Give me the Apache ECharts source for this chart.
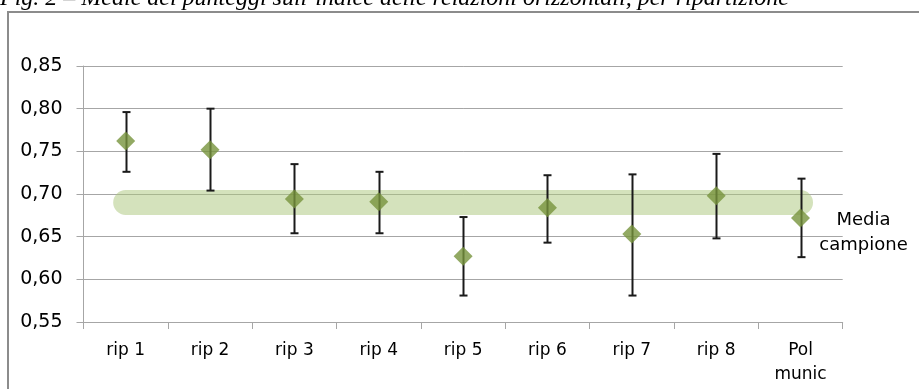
<!DOCTYPE html>
<html>
<head>
<meta charset="utf-8">
<script src="https://cdn.jsdelivr.net/npm/echarts@6/dist/echarts.min.js"></script>
<style>
  html, body { margin: 0; padding: 0; background: #fff; }
  #chart { width: 919px; height: 389px; }
</style>
</head>
<body>
<div id="chart"></div>
<script>
// Categories and per-area statistics
var categories = ['rip 1', 'rip 2', 'rip 3', 'rip 4', 'rip 5', 'rip 6', 'rip 7', 'rip 8', 'Pol\nmunic'];
var means = [0.762, 0.752, 0.694, 0.691, 0.627, 0.684, 0.653, 0.698, 0.672];
var lowerBounds = [0.726, 0.704, 0.654, 0.654, 0.581, 0.643, 0.581, 0.648, 0.626];
var upperBounds = [0.796, 0.800, 0.735, 0.726, 0.673, 0.722, 0.723, 0.747, 0.718];
var sampleMean = 0.69;
var yTicks = { min: 0.55, max: 0.85, step: 0.05 };
var titleText = 'Fig. 2 \u2013 Medie dei punteggi sull\u2019indice delle relazioni orizzontali, per ripartizione';

var chart = echarts.init(document.getElementById('chart'));

var FONT = 'DejaVu Sans';
var AXIS_GRAY = '#a6a6a6';

var errorData = categories.map(function (c, i) { return [i, lowerBounds[i], upperBounds[i]]; });
var bandData = categories.map(function () { return sampleMean; });

chart.setOption({
  animation: false,
  backgroundColor: '#ffffff',
  graphic: [
    {
      type: 'text',
      left: 0,
      top: -13,
      style: {
        text: titleText,
        font: 'italic 24px "Liberation Serif"',
        fill: '#000'
      }
    },
    {
      type: 'rect',
      shape: { x: 8, y: 12, width: 930, height: 400 },
      style: { fill: 'none', stroke: '#8c8c8c', lineWidth: 2 }
    }
  ],
  grid: { left: 83.5, right: 76.3, top: 66, bottom: 67, containLabel: false },
  xAxis: {
    type: 'category',
    data: categories,
    boundaryGap: true,
    axisLine: { show: true, lineStyle: { color: AXIS_GRAY, width: 1 } },
    axisTick: { show: true, length: 7, lineStyle: { color: AXIS_GRAY } },
    axisLabel: { color: '#000', fontFamily: FONT, fontSize: 17, margin: 17, lineHeight: 24, interval: 0 },
    splitLine: { show: false }
  },
  yAxis: {
    type: 'value',
    min: yTicks.min,
    max: yTicks.max,
    interval: yTicks.step,
    axisLine: { show: true, lineStyle: { color: AXIS_GRAY, width: 1 } },
    axisTick: { show: true, length: 7, lineStyle: { color: AXIS_GRAY } },
    axisLabel: {
      color: '#000', fontFamily: FONT, fontSize: 19, margin: 21,
      formatter: function (v) { return v.toFixed(2).replace('.', ','); }
    },
    splitLine: { show: true, lineStyle: { color: AXIS_GRAY, width: 1 } }
  },
  series: [
    {
      name: 'Media campione',
      type: 'line',
      data: bandData,
      symbol: 'none',
      z: 1,
      lineStyle: { width: 25, color: 'rgba(169,197,121,0.5)', cap: 'round' },
      endLabel: {
        show: true,
        formatter: 'Media\ncampione',
        fontFamily: FONT,
        fontSize: 18,
        lineHeight: 25,
        color: '#000',
        align: 'center',
        verticalAlign: 'middle',
        distance: 0,
        offset: [63, 30]
      }
    },
    {
      name: 'Intervallo',
      type: 'custom',
      z: 3,
      data: errorData,
      renderItem: function (params, api) {
        var top = api.coord([api.value(0), api.value(2)]);
        var bot = api.coord([api.value(0), api.value(1)]);
        var x = Math.round(top[0]) + 0.5;
        var hw = 4;
        var st = { stroke: '#1a1a1a', lineWidth: 2 };
        return {
          type: 'group',
          children: [
            { type: 'line', shape: { x1: x, y1: top[1], x2: x, y2: bot[1] }, style: st },
            { type: 'line', shape: { x1: x - hw, y1: top[1], x2: x + hw, y2: top[1] }, style: st },
            { type: 'line', shape: { x1: x - hw, y1: bot[1], x2: x + hw, y2: bot[1] }, style: st }
          ]
        };
      }
    },
    {
      name: 'Media',
      type: 'scatter',
      z: 4,
      data: means,
      symbol: 'diamond',
      symbolSize: [19, 19],
      itemStyle: { color: '#77933c' }
    }
  ]
});
</script>
</body>
</html>
